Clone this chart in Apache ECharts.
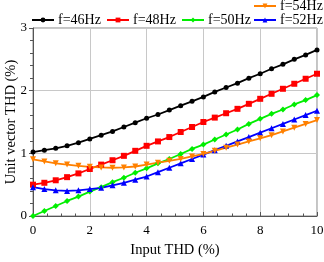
<!DOCTYPE html>
<html><head><meta charset="utf-8">
<script src="https://cdn.jsdelivr.net/npm/echarts@6/dist/echarts.min.js"></script>
<style>html,body{margin:0;padding:0;background:#fff}#c{width:324px;height:262px}</style>
</head><body><div id="c"></div>
<script>
var xValues = [0,0.4,0.8,1.2,1.6,2.0,2.4,2.8,3.2,3.6,4.0,4.4,4.8,5.2,5.6,6.0,6.4,6.8,7.2,7.6,8.0,8.4,8.8,9.2,9.6,10];
var f46 = [1.02,1.05,1.08,1.12,1.17,1.23,1.29,1.35,1.42,1.49,1.56,1.62,1.69,1.76,1.83,1.90,1.98,2.05,2.12,2.20,2.27,2.35,2.42,2.50,2.57,2.65];
var f48 = [0.50,0.53,0.57,0.62,0.68,0.75,0.82,0.89,0.96,1.04,1.12,1.19,1.26,1.34,1.42,1.50,1.57,1.64,1.71,1.79,1.87,1.95,2.03,2.11,2.19,2.27];
var f50 = [0.00,0.08,0.16,0.24,0.31,0.39,0.46,0.54,0.61,0.69,0.76,0.84,0.91,0.99,1.07,1.14,1.22,1.30,1.38,1.47,1.55,1.63,1.70,1.78,1.85,1.93];
var f52 = [0.46,0.43,0.41,0.40,0.41,0.43,0.45,0.49,0.53,0.58,0.63,0.70,0.77,0.84,0.91,0.98,1.05,1.12,1.19,1.26,1.33,1.40,1.47,1.54,1.61,1.68];
var f54 = [0.905,0.87,0.84,0.82,0.80,0.785,0.775,0.77,0.775,0.79,0.82,0.85,0.88,0.91,0.95,0.99,1.04,1.09,1.14,1.19,1.24,1.29,1.35,1.41,1.47,1.53];
var seriesNames = ['f=46Hz','f=48Hz','f=50Hz','f=52Hz','f=54Hz'];
var xTicks = [0,2,4,6,8,10];
var yTicks = [0,1,2,3];

var FONT = 'Liberation Serif';
function pairs(ys){ return xValues.map(function(x,i){ return [x, ys[i]]; }); }
var colors = ['#000000','#ff0000','#00ee00','#0000ff','#ff8000'];
var symbols = ['circle','rect','diamond','triangle','triangle'];
var sizes = [5,6,6,6,6];
var rots = [0,0,0,0,180];
var datas = [f46,f48,f50,f52,f54];
var legendPos = [[31,13],[106,13],[181,13],[253,13],[253,-1]];

var series = datas.map(function(d,i){
  return {
    name: seriesNames[i], type:'line', data: pairs(d),
    symbol: symbols[i], symbolSize: sizes[i], symbolRotate: rots[i],
    showAllSymbol: true,
    lineStyle:{color:colors[i], width:1.8},
    itemStyle:{color:colors[i]},
    animation:false
  };
});
var legends = seriesNames.map(function(n,i){
  return {
    data:[n], left: legendPos[i][0], top: legendPos[i][1], padding:0,
    itemWidth: 22, itemHeight: 6, itemGap: 0,
    textStyle:{fontFamily:FONT, fontSize:14, color:'#000', padding:[0,0,0,-1]}
  };
});

var chart = echarts.init(document.getElementById('c'), null, {renderer:'canvas'});
chart.setOption({
  backgroundColor:'#fff',
  animation:false,
  textStyle:{fontFamily:FONT},
  legend: legends,
  grid:{left:33, right:7, top:28, bottom:46, containLabel:false, outerBoundsMode:'none',
        show:true, borderColor:'#888', borderWidth:1},
  xAxis:{
    type:'value', min:0, max:10, interval:2,
    name:'Input THD (%)', nameLocation:'middle', nameGap:27, nameMoveOverlap:false,
    nameTextStyle:{fontFamily:FONT, fontSize:14.5, color:'#000'},
    axisLine:{onZero:false, lineStyle:{color:'#555'}},
    axisTick:{inside:true, length:4, lineStyle:{color:'#555'}},
    minorTick:{show:true, splitNumber:4, length:2.5, lineStyle:{color:'#555'}},
    axisLabel:{fontFamily:FONT, fontSize:13, color:'#000', margin:8,
      formatter:function(v){ return xTicks.indexOf(v)>=0 ? String(v) : ''; }},
    splitLine:{show:true, lineStyle:{color:'#c8c8c8', width:1}}
  },
  yAxis:{
    type:'value', min:0, max:3, interval:1,
    name:'Unit vector THD (%)', nameLocation:'middle', nameGap:14, nameMoveOverlap:false,
    nameTextStyle:{fontFamily:FONT, fontSize:14.5, color:'#000'},
    axisLine:{show:true, onZero:false, lineStyle:{color:'#555'}},
    axisTick:{show:true, inside:false, length:4, lineStyle:{color:'#555'}},
    minorTick:{show:true, splitNumber:5, length:3, lineStyle:{color:'#555'}},
    axisLabel:{fontFamily:FONT, fontSize:13, color:'#000', margin:6,
      formatter:function(v){ return yTicks.indexOf(v)>=0 ? String(v) : ''; }},
    splitLine:{show:true, lineStyle:{color:'#c8c8c8', width:1}}
  },
  series: series
});
</script></body></html>
